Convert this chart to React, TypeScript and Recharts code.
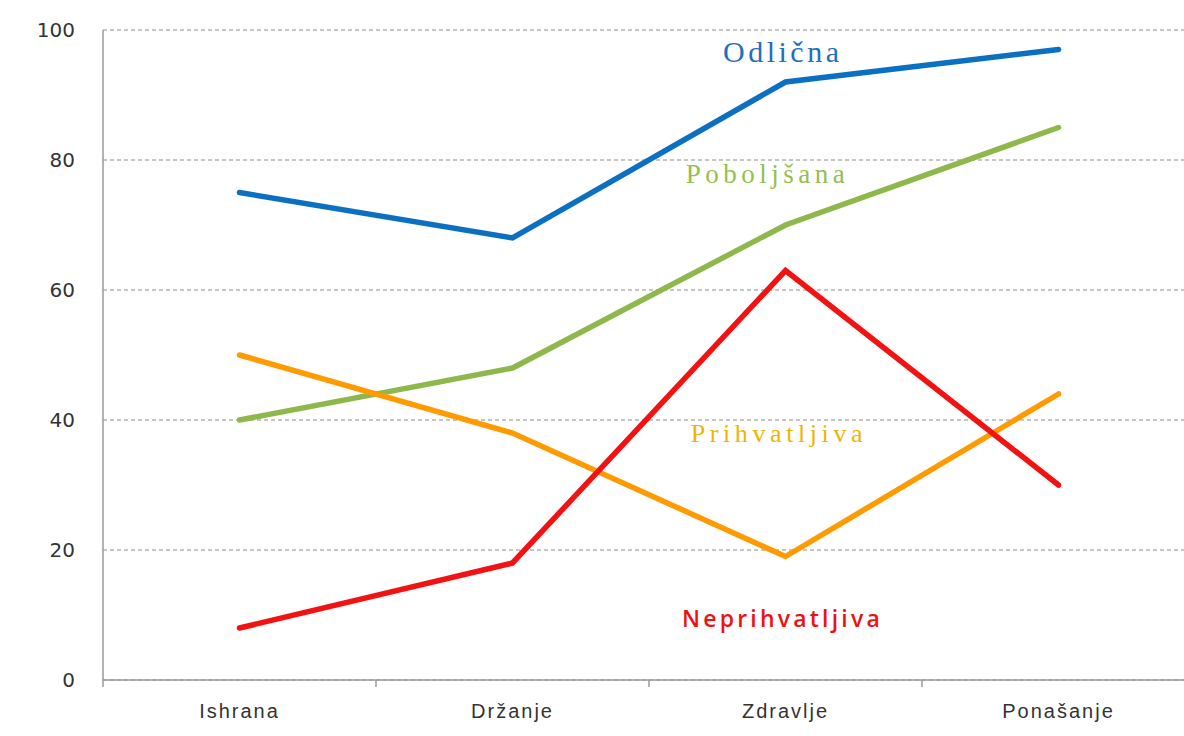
import React from 'react';
import { LineChart, Line, XAxis, YAxis, CartesianGrid, ReferenceDot } from 'recharts';

const categories = ['Ishrana', 'Držanje', 'Zdravlje', 'Ponašanje'];
const odlicna = [75, 68, 92, 97];
const poboljsana = [40, 48, 70, 85];
const prihvatljiva = [50, 38, 19, 44];
const neprihvatljiva = [8, 18, 63, 30];
const yTicks = [0, 20, 40, 60, 80, 100];
const xTicks = [0, 0.5, 1, 1.5, 2, 2.5, 3, 3.5, 4];

const seriesKeys = ['odlicna', 'poboljsana', 'prihvatljiva', 'neprihvatljiva'];
const seriesColors = ['#0b6fc2', '#8fb84c', '#ff9a00', '#f21212'];

const labelTexts = ['Odlična', 'Poboljšana', 'Prihvatljiva', 'Neprihvatljiva'];
const labelX = [2.49, 2.434, 2.476, 2.489];
const labelY = [95.1, 76.5, 36.6, 8.15];
const labelColors = ['#1f6fbf', '#93c051', '#f0b400', '#ee1111'];
const labelFonts = ['Liberation Serif', 'Liberation Serif', 'Liberation Serif', 'Open Sans'];
const labelSizes = [30, 27, 26, 23];
const labelSpacing = [3.5, 4.5, 4.6, 3.2];
const labelWeights = [400, 400, 400, 600];

const data = categories.map((c, i) => ({
  x: i + 0.5,
  name: c,
  odlicna: odlicna[i],
  poboljsana: poboljsana[i],
  prihvatljiva: prihvatljiva[i],
  neprihvatljiva: neprihvatljiva[i],
}));

const XTick = (props: any) => {
  const { x, y, payload } = props;
  const v = payload.value;
  if (Number.isInteger(v)) {
    return <line x1={x} y1={y} x2={x} y2={y + 7} stroke="#9a9a9a" strokeWidth={1.5} />;
  }
  const name = categories[Math.floor(v)];
  return (
    <text x={x} y={y + 38} textAnchor="middle" fill="#333" fontFamily="Liberation Sans, Arial, sans-serif" fontSize={20} letterSpacing={2}>
      {name}
    </text>
  );
};

export default function App() {
  return (
    <div style={{ position: 'absolute', left: 0, top: 0, width: 1184, height: 736, overflow: 'hidden', background: '#fff' }}>
      <LineChart width={1200} height={736} data={data} margin={{ top: 30, right: 5, bottom: 26, left: 0 }}>
        <CartesianGrid vertical={false} stroke="#8c8c8c" strokeDasharray="4 3" strokeWidth={1} />
        <XAxis
          dataKey="x"
          type="number"
          domain={[0, 4]}
          ticks={xTicks}
          interval={0}
          tick={<XTick />}
          tickLine={false}
          tickSize={0}
          tickMargin={0}
          height={30}
          axisLine={{ stroke: '#9a9a9a', strokeWidth: 1.5 }}
          allowDataOverflow
        />
        <YAxis
          domain={[0, 100]}
          ticks={yTicks}
          width={103}
          tickLine={false}
          tickSize={0}
          tickMargin={28}
          axisLine={{ stroke: '#9a9a9a', strokeWidth: 1.5 }}
          tick={{ fill: '#333', fontSize: 20, fontFamily: 'DejaVu Sans, sans-serif' }}
        />
        {seriesKeys.map((k, i) => (
          <Line
            key={k}
            dataKey={k}
            stroke={seriesColors[i]}
            strokeWidth={5.5}
            dot={false}
            activeDot={false}
            isAnimationActive={false}
            strokeLinecap="round"
          />
        ))}
        {labelTexts.map((t, i) => (
          <ReferenceDot
            key={t}
            x={labelX[i]}
            y={labelY[i]}
            r={0}
            ifOverflow="visible"
            shape={(p: any) => (
              <text
                x={p.cx}
                y={p.cy}
                textAnchor="middle"
                fill={labelColors[i]}
                fontFamily={labelFonts[i]}
                fontSize={labelSizes[i]}
                fontWeight={labelWeights[i]}
                letterSpacing={labelSpacing[i]}
              >
                {t}
              </text>
            )}
          />
        ))}
      </LineChart>
    </div>
  );
}
